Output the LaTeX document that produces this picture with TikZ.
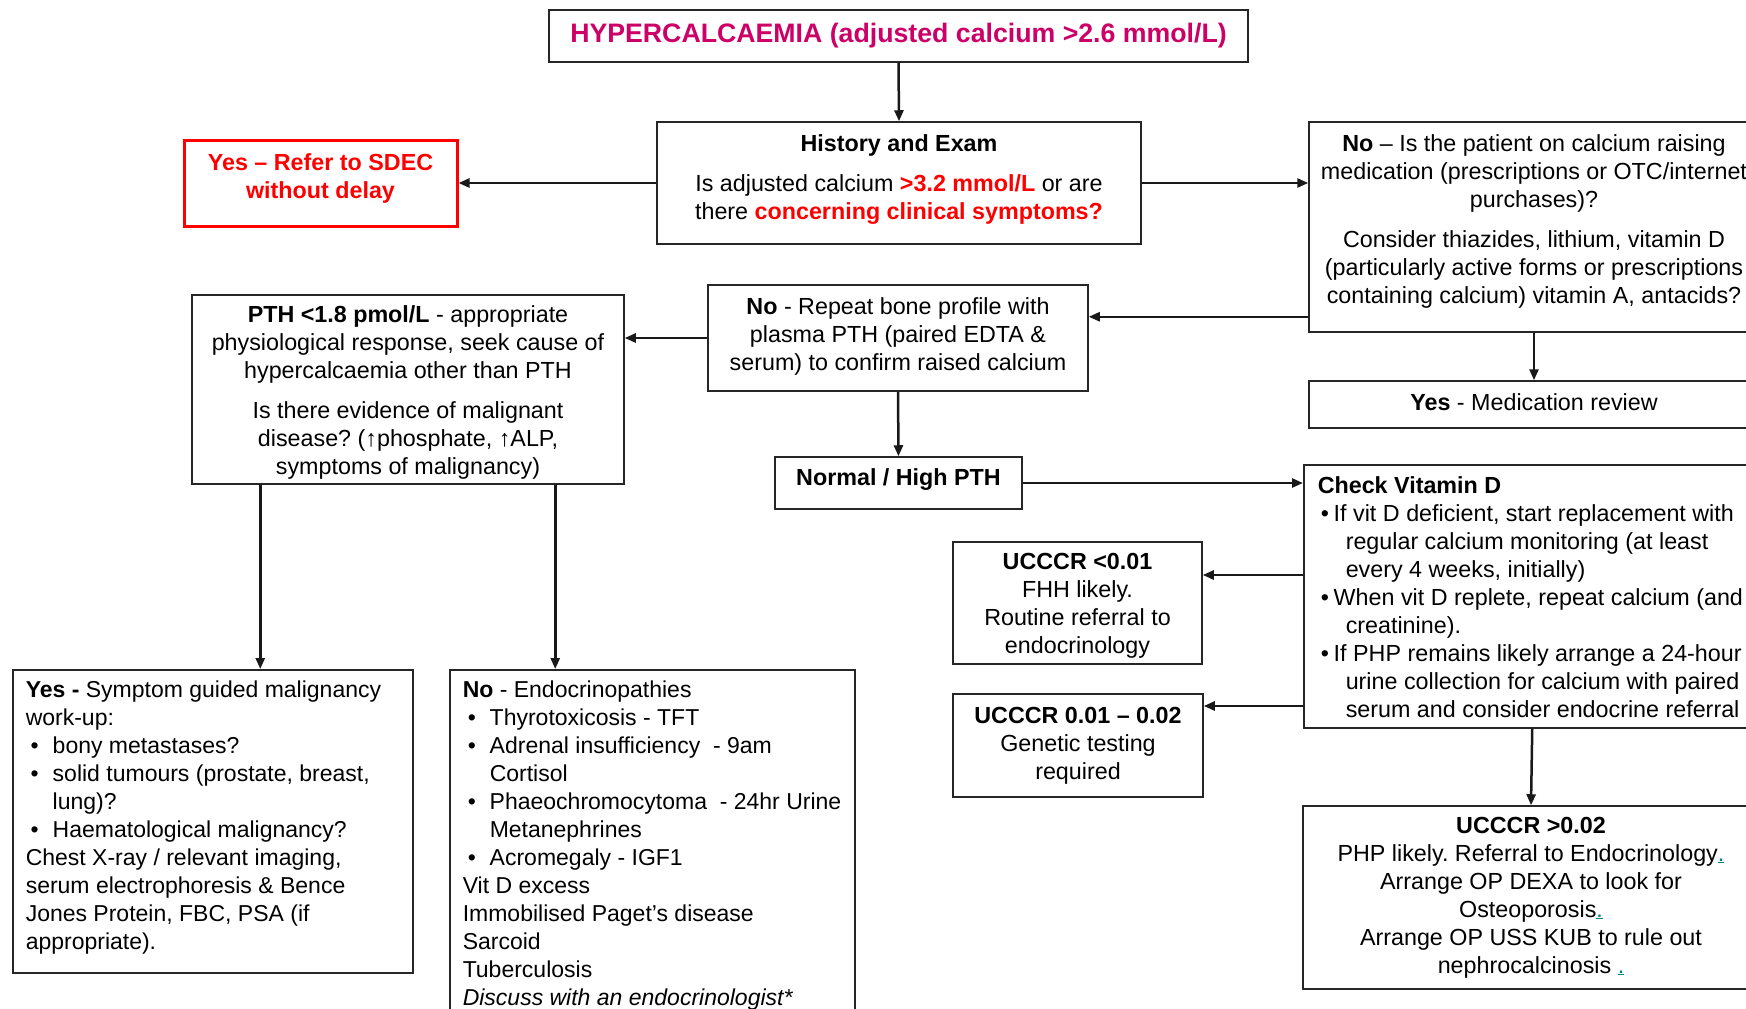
\documentclass[tikz,border=0pt]{standalone}
\usepackage{fontspec}
\setmainfont{Liberation Sans}
\usetikzlibrary{arrows.meta}
\frenchspacing

\definecolor{titlemag}{RGB}{204,0,102}
\definecolor{linkteal}{RGB}{0,128,128}
\newcommand{\tdot}{\textcolor{linkteal}{\underline{.}}}
\newcommand{\bitem}{\hspace*{5pt}\makebox[22pt][l]{•}}
\newcommand{\bcont}{\hspace*{27pt}}
\newcommand{\vitem}{\hspace*{3pt}\makebox[13pt][l]{•}}
\newcommand{\vcont}{\hspace*{28pt}}
\newcommand{\toplines}[3]{\parbox[c][#2][t]{#1}{\begin{tabular}[t]{@{}l@{}}#3\end{tabular}}}
\newcommand{\lift}[2]{\raisebox{#1}[\height][\depth]{\begin{tabular}{@{}c@{}}#2\end{tabular}}}

\tikzset{
  box/.style={draw=black!85, line width=1.5pt, inner sep=0pt, align=center,
    font=\fontsize{23.3}{28}\selectfont},
  arr/.style={-{Triangle[length=11pt,width=9pt]}, line width=2.5pt, draw=black!90},
}

\begin{document}
\begin{tikzpicture}[x=1pt,y=-1pt]
\useasboundingbox (0,0) rectangle (1746,1009);
\clip (0,0) rectangle (1746,1009);
\fill[white] (0,0) rectangle (1746,1009);

% top row
\node[box, minimum width=699pt, minimum height=52pt, text=titlemag,
  font=\fontsize{26.7}{32}\selectfont\bfseries] (hyper) at (898.5,36)
  {HYPERCALCAEMIA (adjusted calcium >2.6 mmol/L)};
\node[box, minimum width=484pt, minimum height=122pt] (history) at (899,183)
  {\lift{3.5pt}{\textbf{History and Exam}\\[12pt]
   Is adjusted calcium \textcolor{red}{\textbf{>3.2 mmol/L}} or are\\
   there \textcolor{red}{\textbf{concerning clinical symptoms?}}}};
\node[box, draw=red, line width=3pt, text=red, minimum width=273pt, minimum height=86pt,
  font=\fontsize{23.3}{28}\selectfont\bfseries] (refer) at (320.5,183)
  {\lift{4.5pt}{Yes – Refer to SDEC\\without delay}};
\node[box, minimum width=450pt, minimum height=210pt] (nomed) at (1534,227)
  {\lift{5.5pt}{\textbf{No} – Is the patient on calcium raising\\
   medication (prescriptions or OTC/internet\\
   purchases)?\\[12pt]
   Consider thiazides, lithium, vitamin D\\
   (particularly active forms or prescriptions\\
   containing calcium) vitamin A, antacids?}};
\node[box, minimum width=450pt, minimum height=47pt] (medrev) at (1534,404.5)
  {\lift{0pt}{\textbf{Yes} - Medication review}};

% middle
\node[box, minimum width=432pt, minimum height=189pt] (pthlow) at (408,389.5)
  {\lift{-3.5pt}{\textbf{PTH <1.8 pmol/L} - appropriate\\
   physiological response, seek cause of\\
   hypercalcaemia other than PTH\\[12pt]
   Is there evidence of malignant\\
   disease? (↑phosphate, ↑ALP,\\
   symptoms of malignancy)}};
\node[box, minimum width=380pt, minimum height=106pt] (repeat) at (898,338)
  {\lift{1pt}{\textbf{No} - Repeat bone profile with\\
   plasma PTH (paired EDTA \&\\
   serum) to confirm raised calcium}};
\node[box, minimum width=247pt, minimum height=52pt] (normal) at (898.5,483)
  {\lift{3.3pt}{\textbf{Normal / High PTH}}};
\node[box, anchor=north west, inner xsep=14pt] (vitd) at (1303,464)
  {\toplines{429pt}{263pt}{\rule{0pt}{29pt}\textbf{Check Vitamin D}\\
   \vitem If vit D deficient, start replacement with\\
   \vcont regular calcium monitoring (at least\\
   \vcont every 4 weeks, initially)\\
   \vitem When vit D replete, repeat calcium (and\\
   \vcont creatinine).\\
   \vitem If PHP remains likely arrange a 24-hour\\
   \vcont urine collection for calcium with paired\\
   \vcont serum and consider endocrine referral}};
\node[box, minimum width=249pt, minimum height=122pt] (ulow) at (1077.5,603)
  {\lift{-3.3pt}{\textbf{UCCCR <0.01}\\FHH likely.\\Routine referral to\\endocrinology}};
\node[box, minimum width=250pt, minimum height=103pt] (umid) at (1078,745.5)
  {\lift{0pt}{\textbf{UCCCR 0.01 – 0.02}\\Genetic testing\\required}};
\node[box, minimum width=456pt, minimum height=183pt] (uhigh) at (1531,897.5)
  {\lift{0pt}{\textbf{UCCCR >0.02}\\
   PHP likely. Referral to Endocrinology\tdot\\
   Arrange OP DEXA to look for\\
   Osteoporosis\tdot\\
   Arrange OP USS KUB to rule out\\
   nephrocalcinosis \tdot}};

% bottom left
\node[box, anchor=north west, inner xsep=13pt, font=\fontsize{23}{28}\selectfont] (yesmal) at (12,669)
  {\toplines{374pt}{303pt}{\rule{0pt}{28pt}\textbf{Yes -} Symptom guided malignancy\\
   work-up:\\
   \bitem bony metastases?\\
   \bitem solid tumours (prostate, breast,\\
   \bcont lung)?\\
   \bitem Haematological malignancy?\\
   Chest X-ray / relevant imaging,\\
   serum electrophoresis \& Bence\\
   Jones Protein, FBC, PSA (if\\
   appropriate).}};
\node[box, anchor=north west, inner xsep=13pt, font=\fontsize{23}{28}\selectfont] (noendo) at (449,669)
  {\toplines{379pt}{380pt}{\rule{0pt}{28pt}\textbf{No} - Endocrinopathies\\
   \bitem Thyrotoxicosis - TFT\\
   \bitem Adrenal insufficiency \ - 9am\\
   \bcont Cortisol\\
   \bitem Phaeochromocytoma \ - 24hr Urine\\
   \bcont Metanephrines\\
   \bitem Acromegaly - IGF1\\
   Vit D excess\\
   Immobilised Paget’s disease\\
   Sarcoid\\
   Tuberculosis\\
   \textit{Discuss with an endocrinologist*}}};

% connectors
\draw[arr] (hyper.south) -- (history.north);
\draw[arr] (history.west) -- (refer.east);
\draw[arr] (history.east) -- (history.east -| nomed.west);
\draw[arr] ([yshift=16pt]nomed.south west) coordinate (nomedout) -- (nomedout -| repeat.east);
\draw[arr] (nomed.south) -- (medrev.north);
\draw[arr] (repeat.west) -- (repeat.west -| pthlow.east);
\draw[arr] (repeat.south) -- (normal.north);
\draw[arr] (normal.east) -- (normal.east -| vitd.west);
\draw[arr] ([yshift=-111pt]vitd.north west) coordinate (vitdA) -- (vitdA -| ulow.east);
\draw[arr] ([yshift=-242pt]vitd.north west) coordinate (vitdB) -- (vitdB -| umid.east);
\draw[arr] (vitd.south) -- (uhigh.north);
\draw[arr] ([xshift=69pt]pthlow.south west) coordinate (pthA) -- (pthA |- yesmal.north);
\draw[arr] ([xshift=364pt]pthlow.south west) coordinate (pthB) -- (pthB |- noendo.north);
\end{tikzpicture}
\end{document}
